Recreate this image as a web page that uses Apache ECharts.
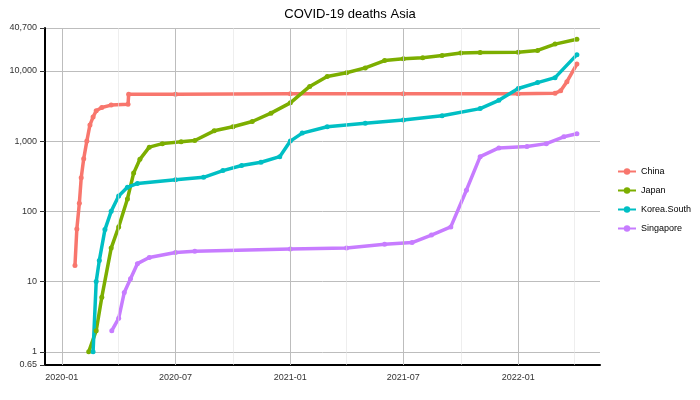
<!DOCTYPE html>
<html>
<head>
<meta charset="utf-8">
<script src="https://cdn.jsdelivr.net/npm/echarts@6/dist/echarts.min.js"></script>
<style>html,body{margin:0;padding:0;background:#fff}#c{width:700px;height:400px}</style>
</head>
<body>
<div id="c"></div>
<script>
// values (log scale)
var china = [['2020-01-22',17],['2020-01-25',56],['2020-01-29',130],['2020-02-01',300],['2020-02-05',560],
  ['2020-02-10',1000],['2020-02-15',1700],['2020-02-20',2200],['2020-02-25',2700],['2020-03-05',3000],
  ['2020-03-20',3250],['2020-04-16',3340],['2020-04-17',4632],['2020-07-01',4640],['2021-01-01',4700],
  ['2021-07-01',4700],['2022-01-01',4700],['2022-03-01',4800],['2022-03-10',5200],['2022-03-20',7000],['2022-04-05',12500]];
var japan = [['2020-02-13',1],['2020-02-25',2],['2020-03-05',6],['2020-03-20',30],['2020-04-01',60],
  ['2020-04-15',150],['2020-04-25',350],['2020-05-05',550],['2020-05-20',820],['2020-06-10',920],
  ['2020-07-10',980],['2020-08-01',1020],['2020-09-01',1400],['2020-10-01',1600],['2020-11-01',1900],
  ['2020-12-01',2500],['2021-01-01',3500],['2021-02-01',6000],['2021-03-01',8300],['2021-04-01',9400],
  ['2021-05-01',11000],['2021-06-01',14000],['2021-07-01',14900],['2021-08-01',15400],['2021-09-01',16500],
  ['2021-10-01',17900],['2021-11-01',18300],['2022-01-01',18400],['2022-02-01',19500],['2022-03-01',24000],['2022-04-05',28200]];
var korea = [['2020-02-20',1],['2020-02-25',10],['2020-03-01',20],['2020-03-10',55],['2020-03-20',100],
  ['2020-04-01',165],['2020-04-15',220],['2020-05-01',250],['2020-07-01',282],['2020-08-15',305],
  ['2020-09-15',380],['2020-10-15',450],['2020-11-15',500],['2020-12-15',600],['2021-01-01',1000],
  ['2021-01-20',1300],['2021-03-01',1600],['2021-05-01',1800],['2021-07-01',2000],['2021-09-01',2300],
  ['2021-11-01',2900],['2021-12-01',3800],['2022-01-01',5600],['2022-02-01',6800],['2022-03-01',8000],['2022-04-05',17000]];
var singapore = [['2020-03-21',2],['2020-04-01',3],['2020-04-10',7],['2020-04-20',11],['2020-05-01',18],
  ['2020-05-20',22],['2020-07-01',26],['2020-08-01',27],['2021-01-01',29],['2021-04-01',30],['2021-06-01',34],
  ['2021-07-15',36],['2021-08-15',46],['2021-09-15',60],['2021-10-10',200],['2021-11-01',600],['2021-12-01',800],
  ['2022-01-15',840],['2022-02-15',920],['2022-03-15',1150],['2022-04-05',1270]];
var names = ['China','Japan','Korea.South','Singapore'];
var colors = ['#F8766D','#7CAE00','#00BFC4','#C77CFF'];
var majorDates = ['2020-01-01','2020-07-01','2021-01-01','2021-07-01','2022-01-01'];
var minorDates = ['2020-04-01','2020-10-01','2021-04-01','2021-10-01','2022-04-01'];

var ts = function (d) { return +new Date(d + 'T00:00:00Z'); };
var allData = [china, japan, korea, singapore];

var series = allData.map(function (d, i) {
  return {
    name: names[i], type: 'line', data: d.map(function (p) { return [ts(p[0]), p[1]]; }),
    symbol: 'circle', symbolSize: 5, lineStyle: { width: 3.5, color: colors[i] },
    itemStyle: { color: colors[i] }, z: 3
  };
});
// vertical grid lines with their date labels below the axis
series.push({
  type: 'line', data: [], silent: true, z: 1,
  markLine: {
    symbol: 'none', silent: true, animation: false,
    data: majorDates.map(function (d) {
      return { xAxis: ts(d), lineStyle: { color: '#bdbdbd', width: 1, type: 'solid' },
        label: { show: true, position: 'start', formatter: d.slice(0, 7), fontSize: 9, color: '#333',
          fontFamily: 'Liberation Sans', distance: 8 } };
    }).concat(minorDates.map(function (d) {
      return { xAxis: ts(d), lineStyle: { color: '#e3e3e3', width: 0.6, type: 'solid' }, label: { show: false } };
    }))
  }
});

var chart = echarts.init(document.getElementById('c'));
chart.setOption({
  animation: false,
  title: { text: 'COVID-19 deaths Asia', left: 'center', top: 3, textStyle: { fontSize: 13, fontWeight: 'normal', color: '#000', fontFamily: 'Liberation Sans' } },
  legend: {
    data: names, orient: 'vertical', left: 612, top: 'middle', itemWidth: 18, itemHeight: 8, itemGap: 10,
    textStyle: { fontSize: 9, color: '#000', fontFamily: 'Liberation Sans' }
  },
  grid: { left: 45, right: 100, top: 28, bottom: 35 },
  xAxis: {
    type: 'value', min: ts('2019-12-05'), max: ts('2022-05-12'),
    axisLine: { show: true, lineStyle: { color: '#000', width: 2 } },
    axisTick: { show: false }, axisLabel: { show: false }, splitLine: { show: false }
  },
  yAxis: {
    type: 'log', logBase: 10, min: 0.65, max: 40700,
    axisLine: { show: true, lineStyle: { color: '#000', width: 2 } },
    axisTick: { show: true, lineStyle: { color: '#333' } },
    axisLabel: { fontSize: 9, color: '#333', fontFamily: 'Liberation Sans' },
    splitLine: { lineStyle: { color: '#bdbdbd', width: 1 } }
  },
  series: series
});
</script>
</body>
</html>
